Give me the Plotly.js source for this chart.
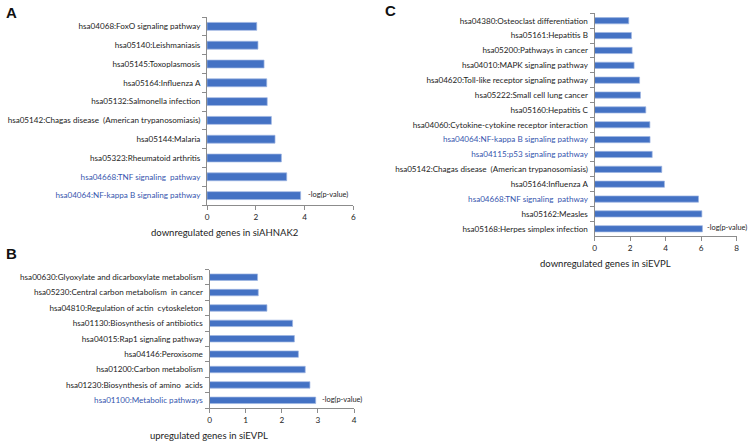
<!DOCTYPE html>
<html><head><meta charset="utf-8">
<script src="https://cdn.plot.ly/plotly-3.0.1.min.js"></script>
<style>html,body{margin:0;padding:0;background:#fff}#chart{width:753px;height:441px}</style>
</head><body><div id="chart"></div>
<script>
// Panel A: downregulated genes in siAHNAK2
const catsA = ["hsa04068:FoxO signaling pathway","hsa05140:Leishmaniasis","hsa05145:Toxoplasmosis","hsa05164:Influenza A","hsa05132:Salmonella infection","hsa05142:Chagas disease  (American trypanosomiasis)","hsa05144:Malaria","hsa05323:Rheumatoid arthritis","hsa04668:TNF signaling  pathway","hsa04064:NF-kappa B signaling pathway"];
const valsA = [2.04, 2.09, 2.34, 2.45, 2.47, 2.64, 2.79, 3.05, 3.27, 3.84];
const hiA = ["hsa04668:TNF signaling  pathway","hsa04064:NF-kappa B signaling pathway"];
// Panel B: upregulated genes in siEVPL
const catsB = ["hsa00630:Glyoxylate and dicarboxylate metabolism","hsa05230:Central carbon metabolism  in cancer","hsa04810:Regulation of actin  cytoskeleton","hsa01130:Biosynthesis of antibiotics","hsa04015:Rap1 signaling pathway","hsa04146:Peroxisome","hsa01200:Carbon metabolism","hsa01230:Biosynthesis of amino  acids","hsa01100:Metabolic pathways"];
const valsB = [1.33, 1.35, 1.59, 2.30, 2.35, 2.46, 2.65, 2.78, 2.94];
const hiB = ["hsa01100:Metabolic pathways"];
// Panel C: downregulated genes in siEVPL
const catsC = ["hsa04380:Osteoclast differentiation","hsa05161:Hepatitis B","hsa05200:Pathways in cancer","hsa04010:MAPK signaling pathway","hsa04620:Toll-like receptor signaling pathway","hsa05222:Small cell lung cancer","hsa05160:Hepatitis C","hsa04060:Cytokine-cytokine receptor interaction","hsa04064:NF-kappa B signaling pathway","hsa04115:p53 signaling pathway","hsa05142:Chagas disease  (American trypanosomiasis)","hsa05164:Influenza A","hsa04668:TNF signaling  pathway","hsa05162:Measles","hsa05168:Herpes simplex infection"];
const valsC = [1.93, 2.08, 2.12, 2.23, 2.54, 2.59, 2.89, 3.12, 3.13, 3.25, 3.79, 3.94, 5.86, 6.05, 6.08];
const hiC = ["hsa04064:NF-kappa B signaling pathway","hsa04115:p53 signaling pathway","hsa04668:TNF signaling  pathway"];
const xTitles = ["downregulated genes in siAHNAK2","upregulated genes in siEVPL","downregulated genes in siEVPL"];
const seriesName = "-log(p-value)";
const panelLetters = ["A","B","C"];

const W = 753, H = 441;
const BAR = "#4472C4", BLUE = "#3656ae", TXT = "#1c1c1c", AX = "#8c8c8c";
const FONT = "Lato, 'Open Sans', Arial, sans-serif";

function label(c, hi){ return hi.includes(c) ? '<span style="color:'+BLUE+'">'+c+'</span>' : c; }
function px(x){ return x / W; }
function py(y){ return 1 - y / H; }

const panels = [
  {cats: catsA, vals: valsA, hi: hiA, x0: 207, x1: 353.3, y0: 17, y1: 205, xmax: 6, dtick: 2, tx: 224.5, ty: 232.5, ls: 6},
  {cats: catsB, vals: valsB, hi: hiB, x0: 209.5, x1: 354, y0: 269.5, y1: 408, xmax: 4, dtick: 1, tx: 209.5, ty: 435, ls: 5},
  {cats: catsC, vals: valsC, hi: hiC, x0: 594.5, x1: 736.5, y0: 13.3, y1: 236.2, xmax: 8, dtick: 2, tx: 605, ty: 263, ls: 4}
];

const traces = [];
const layout = {
  width: W, height: H, margin: {l:0, r:0, t:0, b:0},
  paper_bgcolor: "#fff", plot_bgcolor: "#fff",
  showlegend: false, font: {family: FONT, color: TXT, size: 8},
  annotations: []
};
const letterPos = [[4, 13], [4, 253], [383, 11]];

panels.forEach((p, i) => {
  const n = i === 0 ? "" : String(i + 1);
  traces.push({
    type: "bar", orientation: "h", x: p.vals, y: p.cats, name: seriesName,
    xaxis: "x" + n, yaxis: "y" + n, width: 0.42,
    marker: {color: BAR, line: {color: "#9fb6e3", width: 0.7}},
    hoverinfo: "x+y"
  });
  layout["xaxis" + n] = {
    domain: [px(p.x0), px(p.x1)], anchor: "y" + n, range: [0, p.xmax], dtick: p.dtick, tick0: 0,
    showgrid: false, zeroline: false, showline: true, linecolor: AX, linewidth: 1,
    ticks: "outside", ticklen: 4, tickcolor: AX, tickfont: {size: 8.2, color: TXT, family: FONT},
    fixedrange: true
  };
  layout["yaxis" + n] = {
    domain: [py(p.y1), py(p.y0)], anchor: "x" + n, type: "category",
    categoryorder: "array", categoryarray: p.cats, autorange: "reversed",
    tickvals: p.cats, ticktext: p.cats.map(c => label(c, p.hi)),
    showgrid: false, zeroline: false, showline: true, linecolor: AX, linewidth: 1,
    ticks: "outside", ticklen: 4, tickcolor: AX, tickson: "boundaries",
    tickfont: {size: 8.1, color: TXT, family: FONT}, ticklabelstandoff: 4,
    fixedrange: true
  };
  layout.annotations.push({
    xref: "paper", yref: "paper", x: px(p.tx), y: py(p.ty),
    text: xTitles[i], showarrow: false, xanchor: "center", yanchor: "middle",
    font: {size: 9.5, color: TXT, family: FONT}
  });
  layout.annotations.push({
    xref: "x" + n, yref: "y" + n, x: p.vals[p.vals.length - 1], y: p.cats[p.cats.length - 1],
    text: seriesName, showarrow: false, xanchor: "left", yanchor: "middle", xshift: p.ls, yshift: 1,
    borderpad: 0, font: {size: 7.4, color: TXT, family: FONT}
  });
  layout.annotations.push({
    xref: "paper", yref: "paper", x: px(letterPos[i][0]), y: py(letterPos[i][1]),
    text: "<b>" + panelLetters[i] + "</b>", showarrow: false, xanchor: "left", yanchor: "middle",
    font: {size: 15, color: "#111", family: "Arial, 'Liberation Sans', sans-serif"}
  });
});

Plotly.newPlot("chart", traces, layout, {displayModeBar: false, staticPlot: true});
</script></body></html>
